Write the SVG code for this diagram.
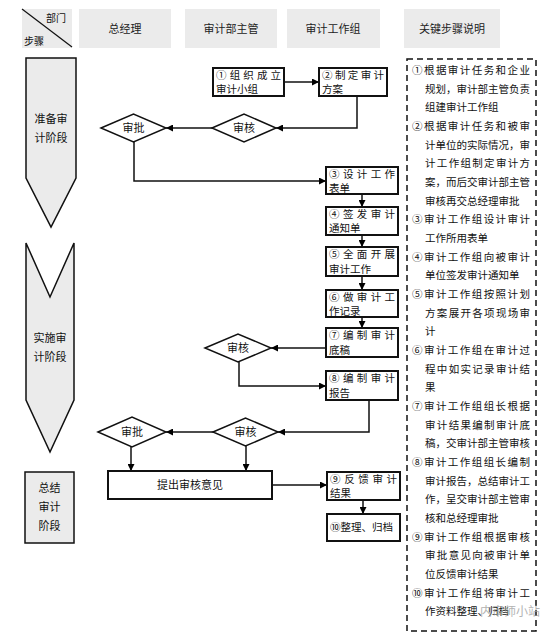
<svg xmlns="http://www.w3.org/2000/svg" width="554" height="638" viewBox="0 0 554 638">
<defs>
<marker id="ah" viewBox="0 0 10 10" refX="10" refY="5" markerWidth="7" markerHeight="7" markerUnits="userSpaceOnUse" orient="auto">
<path d="M0,0 L10,5 L0,10 z" fill="#000"/>
</marker>
<style>
text{font-family:"Noto Sans CJK SC","Noto Sans",sans-serif;fill:#111}
.hd{fill:#ebebeb;stroke:none}
.ht{font-size:11px;text-anchor:middle;fill:#222}
.ph{fill:#ebebeb;stroke:#111;stroke-width:1.5}
.pt{font-size:11px;text-anchor:middle}
.bx{fill:#fff;stroke:#111;stroke-width:2}
.bt{font-size:10.5px}
.dm{fill:#fff;stroke:#111;stroke-width:1.5}
.dt{font-size:11px;text-anchor:middle}
.cn{fill:none;stroke:#111;stroke-width:1.5}
.rt{font-size:10.5px}
</style>
</defs>
<rect width="554" height="638" fill="#fff"/>

<g id="header">
<rect class="hd" x="22" y="9" width="50" height="39"/>
<line x1="22" y1="9" x2="72" y2="47" stroke="#111" stroke-width="1.2"/>
<text x="46" y="22" style="font-size:10px">部门</text>
<text x="24" y="45" style="font-size:10px">步骤</text>
<rect class="hd" x="79" y="9" width="92" height="39"/>
<text class="ht" x="125" y="33">总经理</text>
<rect class="hd" x="185" y="9" width="92" height="39"/>
<text class="ht" x="231" y="33">审计部主管</text>
<rect class="hd" x="287" y="9" width="93" height="39"/>
<text class="ht" x="333" y="33">审计工作组</text>
<rect class="hd" x="404" y="9" width="96" height="39"/>
<text class="ht" x="452" y="33">关键步骤说明</text>
</g>

<g id="phase1">
<polygon class="ph" points="26,58 76,58 76,178 51,227 26,178"/>
<text class="pt" x="51" y="123">准备审</text>
<text class="pt" x="51" y="142">计阶段</text>
</g>
<g id="phase2">
<polygon class="ph" points="26,243 50,297 74,243 74,400 50,452 26,400"/>
<text class="pt" x="50" y="342">实施审</text>
<text class="pt" x="50" y="361">计阶段</text>
</g>
<g id="phase3">
<rect class="ph" x="25" y="472" width="49" height="71"/>
<text class="pt" x="49.5" y="492">总结</text>
<text class="pt" x="49.5" y="511">审计</text>
<text class="pt" x="49.5" y="530">阶段</text>
</g>

<g id="connectors">
<path class="cn" d="M284,82 H319" marker-end="url(#ah)"/>
<path class="cn" d="M357,96 V128 H276" marker-end="url(#ah)"/>
<path class="cn" d="M212,128 H166" marker-end="url(#ah)"/>
<path class="cn" d="M134,142 V181 H326" marker-end="url(#ah)"/>
<path class="cn" d="M362,194 V207" marker-end="url(#ah)"/>
<path class="cn" d="M362,235 V247" marker-end="url(#ah)"/>
<path class="cn" d="M362,276 V290" marker-end="url(#ah)"/>
<path class="cn" d="M362,317 V328" marker-end="url(#ah)"/>
<path class="cn" d="M326,348 H271" marker-end="url(#ah)"/>
<path class="cn" d="M239,362 V386 H326" marker-end="url(#ah)"/>
<path class="cn" d="M369,400 V432 H278" marker-end="url(#ah)"/>
<path class="cn" d="M213,432 H166" marker-end="url(#ah)"/>
<path class="cn" d="M131,447 V471" marker-end="url(#ah)"/>
<path class="cn" d="M246,446 V471" marker-end="url(#ah)"/>
<path class="cn" d="M272,485 H327" marker-end="url(#ah)"/>
<path class="cn" d="M363,500 V514" marker-end="url(#ah)"/>
</g>

<g id="n1">
<rect class="bx" x="213" y="68" width="71" height="28"/>
<text class="bt" x="216" y="79" textLength="65" lengthAdjust="spacing">①组织成立</text>
<text class="bt" x="216" y="93">审计小组</text>
</g>
<g id="n2">
<rect class="bx" x="319" y="68" width="68" height="28"/>
<text class="bt" x="322" y="79" textLength="62" lengthAdjust="spacing">②制定审计</text>
<text class="bt" x="322" y="93">方案</text>
</g>
<g id="n3">
<rect class="bx" x="326" y="167" width="72" height="27"/>
<text class="bt" x="329" y="178" textLength="66" lengthAdjust="spacing">③设计工作</text>
<text class="bt" x="329" y="192">表单</text>
</g>
<g id="n4">
<rect class="bx" x="326" y="207" width="72" height="28"/>
<text class="bt" x="329" y="218" textLength="66" lengthAdjust="spacing">④签发审计</text>
<text class="bt" x="329" y="232">通知单</text>
</g>
<g id="n5">
<rect class="bx" x="326" y="247" width="72" height="29"/>
<text class="bt" x="329" y="258" textLength="66" lengthAdjust="spacing">⑤全面开展</text>
<text class="bt" x="329" y="273">审计工作</text>
</g>
<g id="n6">
<rect class="bx" x="326" y="290" width="72" height="27"/>
<text class="bt" x="329" y="301" textLength="66" lengthAdjust="spacing">⑥做审计工</text>
<text class="bt" x="329" y="315">作记录</text>
</g>
<g id="n7">
<rect class="bx" x="326" y="328" width="72" height="29"/>
<text class="bt" x="329" y="339" textLength="66" lengthAdjust="spacing">⑦编制审计</text>
<text class="bt" x="329" y="354">底稿</text>
</g>
<g id="n8">
<rect class="bx" x="326" y="371" width="72" height="29"/>
<text class="bt" x="329" y="382" textLength="66" lengthAdjust="spacing">⑧编制审计</text>
<text class="bt" x="329" y="397">报告</text>
</g>
<g id="n9">
<rect class="bx" x="327" y="472" width="73" height="28"/>
<text class="bt" x="330" y="483" textLength="67" lengthAdjust="spacing">⑨反馈审计</text>
<text class="bt" x="330" y="497">结果</text>
</g>
<g id="n10">
<rect class="bx" x="327" y="514" width="73" height="27"/>
<text class="bt" x="330" y="531">⑩整理、归档</text>
</g>
<g id="opinion">
<rect class="bx" x="108" y="471" width="164" height="28"/>
<text class="dt" x="190" y="489">提出审核意见</text>
</g>

<g id="d_approve1">
<polygon class="dm" points="101,128 133.5,114 166,128 133.5,142"/>
<text class="dt" x="133.5" y="132">审批</text>
</g>
<g id="d_review1">
<polygon class="dm" points="212,128 244,114 276,128 244,142"/>
<text class="dt" x="244" y="132">审核</text>
</g>
<g id="d_review2">
<polygon class="dm" points="205,348 238,334 271,348 238,362"/>
<text class="dt" x="238" y="352">审核</text>
</g>
<g id="d_approve2">
<polygon class="dm" points="98,432 132,417 166,432 132,447"/>
<text class="dt" x="132" y="436">审批</text>
</g>
<g id="d_review3">
<polygon class="dm" points="213,432 245.5,418 278,432 245.5,446"/>
<text class="dt" x="245.5" y="436">审核</text>
</g>

<g id="notes">
<rect x="407" y="59" width="129" height="572" fill="none" stroke="#111" stroke-width="1.5" stroke-dasharray="6,4"/>
<text class="rt" x="412" y="74" textLength="118" lengthAdjust="spacing">①根据审计任务和企业</text>
<text class="rt" x="425" y="93" textLength="105" lengthAdjust="spacing">规划，审计部主管负责</text>
<text class="rt" x="425" y="111">组建审计工作组</text>
<text class="rt" x="412" y="130" textLength="118" lengthAdjust="spacing">②根据审计任务和被审</text>
<text class="rt" x="425" y="149" textLength="105" lengthAdjust="spacing">计单位的实际情况，审</text>
<text class="rt" x="425" y="167" textLength="105" lengthAdjust="spacing">计工作组制定审计方</text>
<text class="rt" x="425" y="186" textLength="105" lengthAdjust="spacing">案，而后交审计部主管</text>
<text class="rt" x="425" y="205">审核再交总经理审批</text>
<text class="rt" x="412" y="223" textLength="118" lengthAdjust="spacing">③审计工作组设计审计</text>
<text class="rt" x="425" y="242">工作所用表单</text>
<text class="rt" x="412" y="261" textLength="118" lengthAdjust="spacing">④审计工作组向被审计</text>
<text class="rt" x="425" y="279">单位签发审计通知单</text>
<text class="rt" x="412" y="298" textLength="118" lengthAdjust="spacing">⑤审计工作组按照计划</text>
<text class="rt" x="425" y="317" textLength="105" lengthAdjust="spacing">方案展开各项现场审</text>
<text class="rt" x="425" y="335">计</text>
<text class="rt" x="412" y="354" textLength="118" lengthAdjust="spacing">⑥审计工作组在审计过</text>
<text class="rt" x="425" y="373" textLength="105" lengthAdjust="spacing">程中如实记录审计结</text>
<text class="rt" x="425" y="391">果</text>
<text class="rt" x="412" y="410" textLength="118" lengthAdjust="spacing">⑦审计工作组组长根据</text>
<text class="rt" x="425" y="429" textLength="105" lengthAdjust="spacing">审计结果编制审计底</text>
<text class="rt" x="425" y="447" textLength="105" lengthAdjust="spacing">稿，交审计部主管审核</text>
<text class="rt" x="412" y="466" textLength="118" lengthAdjust="spacing">⑧审计工作组组长编制</text>
<text class="rt" x="425" y="485" textLength="105" lengthAdjust="spacing">审计报告，总结审计工</text>
<text class="rt" x="425" y="503" textLength="105" lengthAdjust="spacing">作，呈交审计部主管审</text>
<text class="rt" x="425" y="522">核和总经理审批</text>
<text class="rt" x="412" y="541" textLength="118" lengthAdjust="spacing">⑨审计工作组根据审核</text>
<text class="rt" x="425" y="559" textLength="105" lengthAdjust="spacing">审批意见向被审计单</text>
<text class="rt" x="425" y="578">位反馈审计结果</text>
<text class="rt" x="412" y="597" textLength="118" lengthAdjust="spacing">⑩审计工作组将审计工</text>
<text class="rt" x="425" y="615">作资料整理、归档</text>
<text x="480" y="616" style="font-size:12px;fill:#999;opacity:0.75">内审师小站</text>
</g>
</svg>
